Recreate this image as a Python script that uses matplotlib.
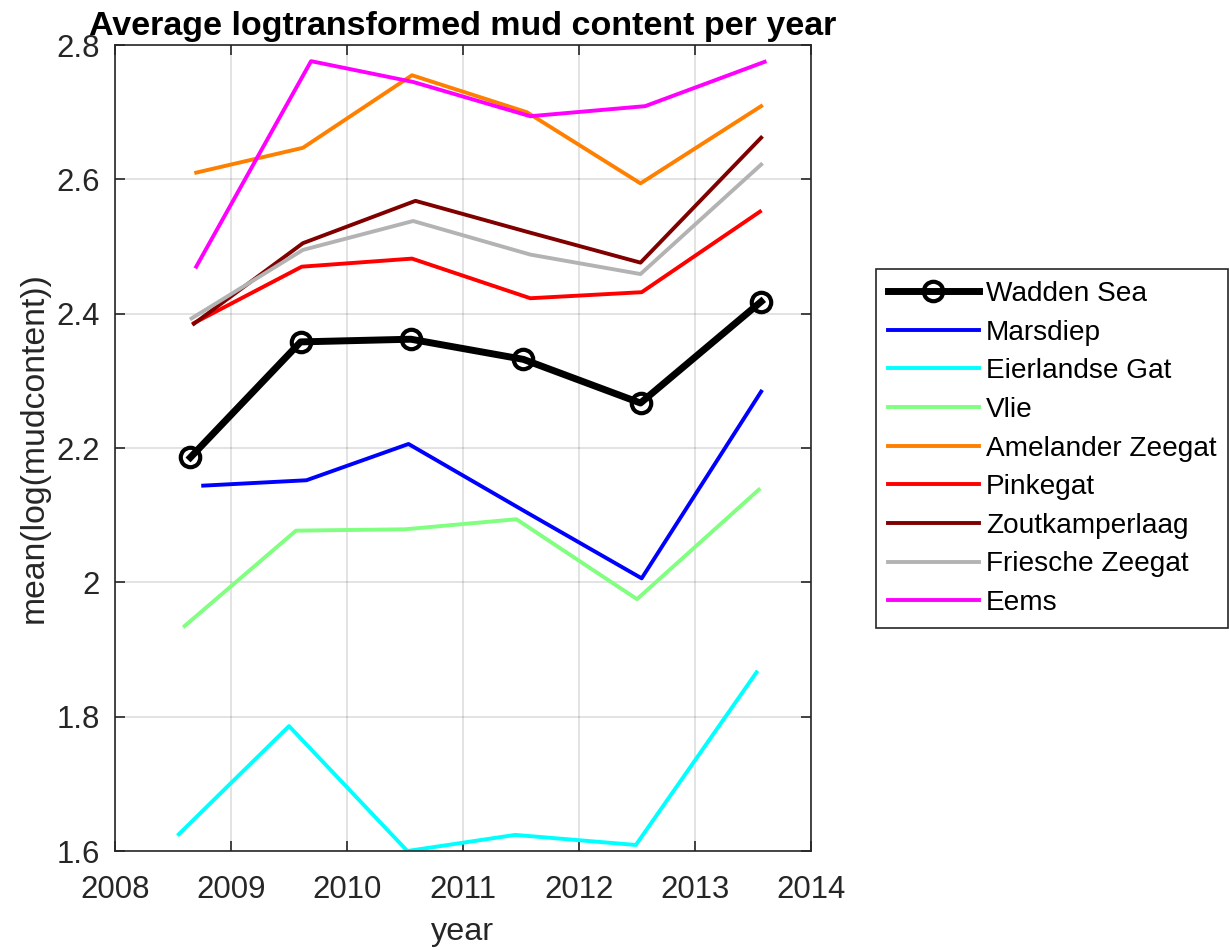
import matplotlib
matplotlib.use("Agg")
import matplotlib.pyplot as plt
from matplotlib.ticker import FixedLocator

plt.rcParams["font.family"] = ["Liberation Sans", "DejaVu Sans"]

AX_COLOR = "#262626"

names = ["Wadden Sea", "Marsdiep", "Eierlandse Gat", "Vlie", "Amelander Zeegat",
         "Pinkegat", "Zoutkamperlaag", "Friesche Zeegat", "Eems"]
colors = ["#000000", "#0000ff", "#00ffff", "#80ff80", "#ff8000",
          "#ff0000", "#800000", "#b3b3b3", "#ff00ff"]

# x values (mean sampling date per year) and mean log mud content, per area
years = {
    "Wadden Sea":       [2008.65, 2009.60, 2010.55, 2011.52, 2012.53, 2013.57],
    "Marsdiep":         [2008.76, 2009.65, 2010.53, 2011.55, 2012.54, 2013.57],
    "Eierlandse Gat":   [2008.55, 2009.50, 2010.52, 2011.45, 2012.49, 2013.53],
    "Vlie":             [2008.60, 2009.56, 2010.50, 2011.46, 2012.50, 2013.55],
    "Amelander Zeegat": [2008.70, 2009.62, 2010.56, 2011.55, 2012.53, 2013.57],
    "Pinkegat":         [2008.68, 2009.61, 2010.56, 2011.58, 2012.54, 2013.56],
    "Zoutkamperlaag":   [2008.68, 2009.62, 2010.59, 2011.55, 2012.53, 2013.57],
    "Friesche Zeegat":  [2008.66, 2009.62, 2010.57, 2011.58, 2012.53, 2013.57],
    "Eems":             [2008.70, 2009.69, 2010.57, 2011.58, 2012.57, 2013.60],
}
mud = {
    "Wadden Sea":       [2.186, 2.358, 2.362, 2.332, 2.267, 2.418],
    "Marsdiep":         [2.144, 2.152, 2.206, 2.104, 2.006, 2.284],
    "Eierlandse Gat":   [1.625, 1.786, 1.600, 1.624, 1.609, 1.866],
    "Vlie":             [1.935, 2.077, 2.079, 2.094, 1.975, 2.138],
    "Amelander Zeegat": [2.610, 2.647, 2.755, 2.700, 2.594, 2.709],
    "Pinkegat":         [2.386, 2.470, 2.482, 2.423, 2.432, 2.552],
    "Zoutkamperlaag":   [2.385, 2.505, 2.568, 2.522, 2.476, 2.662],
    "Friesche Zeegat":  [2.393, 2.495, 2.538, 2.488, 2.459, 2.622],
    "Eems":             [2.470, 2.776, 2.745, 2.694, 2.709, 2.775],
}

xticks = [2008, 2009, 2010, 2011, 2012, 2013, 2014]
yticks = [1.6, 1.8, 2.0, 2.2, 2.4, 2.6, 2.8]
ytick_labels = ["1.6", "1.8", "2", "2.2", "2.4", "2.6", "2.8"]

fig = plt.figure(figsize=(12.29, 9.5), dpi=100, facecolor="white")
ax = fig.add_axes([0.0936, 0.1042, 0.5663, 0.8484])

for name, col in zip(names, colors):
    if name == "Wadden Sea":
        ax.plot(years[name], mud[name], "-o", color=col, linewidth=5,
                markersize=14, markerfacecolor="none", markeredgewidth=3,
                label=name, zorder=3)
    else:
        ax.plot(years[name], mud[name], "-", color=col, linewidth=2.8,
                label=name, zorder=2)

ax.set_xlim(2008, 2014)
ax.set_ylim(1.6, 2.8)
ax.xaxis.set_major_locator(FixedLocator(xticks))
ax.set_yticks(yticks)
ax.set_yticklabels(ytick_labels)
ax.grid(True, color="#262626", alpha=0.15, linewidth=1.2)
ax.set_axisbelow(True)
ax.tick_params(direction="in", length=7, width=1.2, colors=AX_COLOR,
               labelsize=22.4, top=True, right=True)
ax.tick_params(axis="x", pad=17)
ax.tick_params(axis="y", pad=11)
for sp in ax.spines.values():
    sp.set_color(AX_COLOR)
    sp.set_linewidth(1.2)

ax.set_xlabel("year", fontsize=23.3, color=AX_COLOR, labelpad=9)
ax.set_ylabel("mean(log(mudcontent))", fontsize=24.3, color=AX_COLOR, labelpad=5)
ax.set_title("Average logtransformed mud content per year", fontsize=24.5,
             fontweight="bold", color="black", pad=7)

leg = ax.legend(loc="center left", bbox_to_anchor=(876 / 1229, (950 - 448.5) / 950),
                bbox_transform=fig.transFigure, fontsize=20.2, frameon=True,
                fancybox=False, edgecolor="#262626", framealpha=1,
                handlelength=3.24, handletextpad=0.25, borderpad=0.42,
                labelspacing=0.45, borderaxespad=0)
leg.get_frame().set_linewidth(1.2)

fig.savefig("out.png", dpi=100, facecolor="white")
